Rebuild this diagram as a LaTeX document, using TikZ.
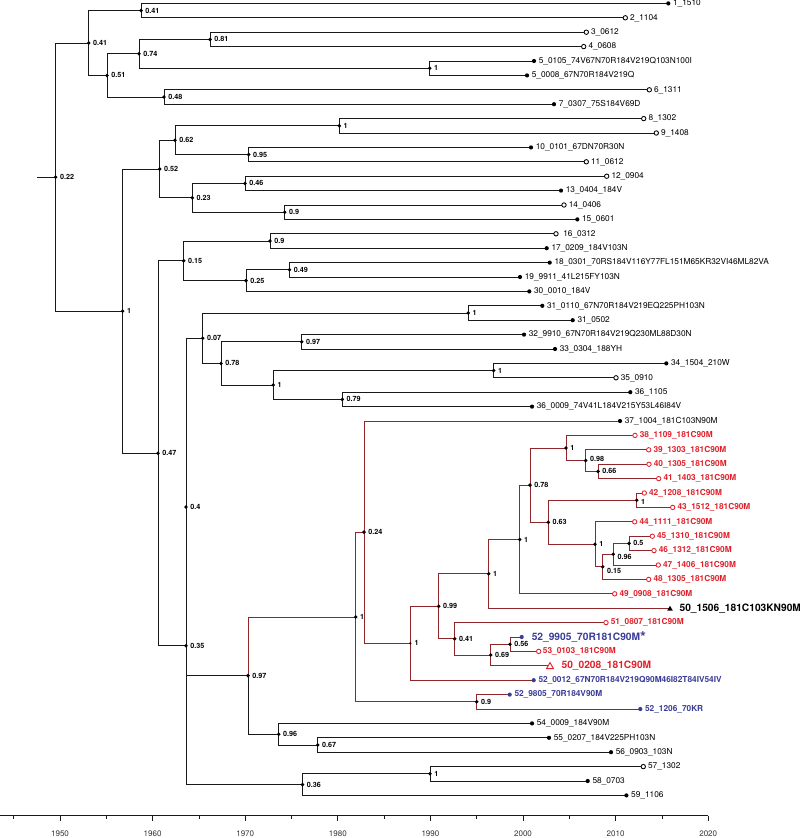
\documentclass[tikz,border=0pt]{standalone}
\usepackage{fontspec}
\setmainfont{TeX Gyre Heros}
\usetikzlibrary{shapes.geometric}
\definecolor{brred}{RGB}{145,38,42}
\definecolor{txtred}{RGB}{224,34,44}
\definecolor{txtblue}{RGB}{58,60,150}
\definecolor{brblack}{RGB}{25,25,25}
\newcommand\kids[3]{\draw (#1) |- (#2) (#1) |- (#3);}
\tikzset{
  br/.style={line width=0.9pt, draw=brblack},
  rbr/.style={line width=0.9pt, draw=brred},
  idot/.style={circle, fill=black, inner sep=0pt, minimum size=3.8pt},
  sdot/.style={circle, fill=black, inner sep=0pt, minimum size=2.4pt},
  fdot/.style={circle, fill=black, inner sep=0pt, minimum size=4.2pt},
  odot/.style={circle, draw=black, fill=white, line width=0.85pt, inner sep=0pt, minimum size=4.4pt},
  rodot/.style={odot, draw=txtred},
  bdot/.style={fdot, fill=txtblue},
  ftri/.style={regular polygon, regular polygon sides=3, fill=black, inner sep=0pt, minimum size=6.5pt},
  rotri/.style={regular polygon, regular polygon sides=3, draw=txtred, fill=white, line width=0.9pt, inner sep=0pt, minimum size=8pt},
  tlab/.style={anchor=west, inner sep=0pt, xshift=4.6pt, font=\fontsize{8.3}{9}\selectfont},
  rlab/.style={tlab, text=txtred, font=\fontsize{8.3}{9}\selectfont\bfseries},
  blab/.style={tlab, text=txtblue, font=\fontsize{8.3}{9}\selectfont\bfseries},
  biglab/.style={tlab, xshift=4.8pt, font=\fontsize{10.2}{12}\selectfont\bfseries},
  slab/.style={anchor=west, inner sep=0pt, xshift=4.2pt, font=\fontsize{7.2}{8}\selectfont\bfseries},
  axlab/.style={inner sep=0pt, font=\fontsize{8}{9}\selectfont, text=black!80},
}
\begin{document}
\begin{tikzpicture}[x=1pt, y=-1pt]
\useasboundingbox (0,0) rectangle (800,838);
% ---------------- tips ----------------
\coordinate (t0) at (668.3,3.4);
\coordinate (t1) at (625.3,17.8);
\coordinate (t2) at (586.3,32.2);
\coordinate (t3) at (583.7,46.6);
\coordinate (t4) at (534,61.0);
\coordinate (t5) at (527,75.4);
\coordinate (t6) at (649.3,89.8);
\coordinate (t7) at (554,104.2);
\coordinate (t8) at (643.7,118.6);
\coordinate (t9) at (656.3,133.0);
\coordinate (t10) at (531,147.4);
\coordinate (t11) at (586.3,161.8);
\coordinate (t12) at (606.7,176.2);
\coordinate (t13) at (561,190.6);
\coordinate (t14) at (564,205.0);
\coordinate (t15) at (577.3,219.4);
\coordinate (t16) at (556,233.8);
\coordinate (t17) at (546.7,248.2);
\coordinate (t18) at (549.7,262.6);
\coordinate (t19) at (520,277.0);
\coordinate (t20) at (529.3,291.4);
\coordinate (t21) at (542.3,305.8);
\coordinate (t22) at (572.7,320.2);
\coordinate (t23) at (524,334.6);
\coordinate (t24) at (555,349.0);
\coordinate (t25) at (666.3,363.4);
\coordinate (t26) at (616,377.8);
\coordinate (t27) at (630.3,392.2);
\coordinate (t28) at (532,406.6);
\coordinate (t29) at (620,421.0);
\coordinate (t30) at (635,435.4);
\coordinate (t31) at (648.7,449.8);
\coordinate (t32) at (649,464.2);
\coordinate (t33) at (658.7,478.6);
\coordinate (t34) at (644.3,493.0);
\coordinate (t35) at (672.7,507.4);
\coordinate (t36) at (634.7,521.8);
\coordinate (t37) at (652.3,536.2);
\coordinate (t38) at (654,550.6);
\coordinate (t39) at (658.3,565.0);
\coordinate (t40) at (648.7,579.4);
\coordinate (t41) at (614.7,593.8);
\coordinate (t42) at (670,608.2);
\coordinate (t43) at (606,622.6);
\coordinate (t44) at (521.7,637.0);
\coordinate (t45) at (538.7,651.4);
\coordinate (t46) at (550,665.8);
\coordinate (t47) at (533.7,680.2);
\coordinate (t48) at (509.7,694.6);
\coordinate (t49) at (640.3,709.0);
\coordinate (t50) at (532,723.4);
\coordinate (t51) at (549,737.8);
\coordinate (t52) at (611,752.2);
\coordinate (t53) at (643.3,766.6);
\coordinate (t54) at (587.7,781.0);
\coordinate (t55) at (626.4,795.4);
% ---------------- internal nodes ----------------
\coordinate (A) at (141,10.6);
\coordinate (B) at (210,39.4);
\coordinate (C) at (429.7,68.2);
\coordinate (D) at (139,53.8);
\coordinate (E) at (164,97.0);
\coordinate (F) at (107,75.4);
\coordinate (G) at (88.7,43.0);
\coordinate (H) at (339.3,125.8);
\coordinate (I) at (248.7,154.6);
\coordinate (J) at (175,140.2);
\coordinate (K) at (245,183.4);
\coordinate (L) at (284.7,212.2);
\coordinate (M) at (192.3,197.8);
\coordinate (N) at (159.7,169.0);
\coordinate (O) at (270,241.0);
\coordinate (P) at (289.5,269.8);
\coordinate (Q) at (246,280.6);
\coordinate (R) at (183.7,260.8);
\coordinate (S) at (468.3,313.0);
\coordinate (T) at (301.7,341.8);
\coordinate (U) at (493.7,370.6);
\coordinate (V) at (342.3,399.4);
\coordinate (W) at (273.3,385.0);
\coordinate (X) at (221,363.4);
\coordinate (Y) at (202.7,338.2);
\coordinate (a1) at (598,471.4);
\coordinate (a2) at (585.7,460.6);
\coordinate (a3) at (566,448.0);
\coordinate (a4) at (636.7,500.2);
\coordinate (a5) at (629,543.4);
\coordinate (a6) at (613.3,554.2);
\coordinate (a7) at (602.7,566.8);
\coordinate (a8) at (595,544.3);
\coordinate (a9) at (548.3,522.3);
\coordinate (a10) at (530,485.1);
\coordinate (a11) at (519.7,539.5);
\coordinate (a12) at (488.7,573.8);
\coordinate (b1) at (510,644.2);
\coordinate (b2) at (490.7,655.0);
\coordinate (b3) at (454.7,638.8);
\coordinate (b4) at (438.7,606.3);
\coordinate (b5) at (410.3,643.3);
\coordinate (b6) at (364,532.1);
\coordinate (b7) at (476.7,701.8);
\coordinate (b8) at (355.7,617.0);
\coordinate (c1) at (317.7,745.0);
\coordinate (c2) at (278.7,734.2);
\coordinate (c3) at (248,675.6);
\coordinate (c4) at (186,506.9);
\coordinate (c5) at (430,773.8);
\coordinate (c6) at (302.5,784.6);
\coordinate (c7) at (186,645.8);
\coordinate (c8) at (158,453.3);
\coordinate (c9) at (122.7,311.1);
\coordinate (c10) at (55.7,177.1);
\coordinate (root) at (37,177.1);
% ---------------- branches ----------------
\begin{scope}[br]
\kids{A}{t0}{t1} \kids{B}{t2}{t3} \kids{C}{t4}{t5} \kids{D}{B}{C}
\kids{E}{t6}{t7} \kids{F}{D}{E} \kids{G}{A}{F}
\kids{H}{t8}{t9} \kids{I}{t10}{t11} \kids{J}{H}{I}
\kids{K}{t12}{t13} \kids{L}{t14}{t15} \kids{M}{K}{L} \kids{N}{J}{M}
\kids{O}{t16}{t17} \kids{P}{t18}{t19} \kids{Q}{P}{t20} \kids{R}{O}{Q}
\kids{S}{t21}{t22} \kids{T}{t23}{t24} \kids{U}{t25}{t26} \kids{V}{t27}{t28}
\kids{W}{U}{V} \kids{X}{T}{W} \kids{Y}{S}{X}
\kids{c1}{t51}{t52} \kids{c2}{t50}{c1}
\draw (c3) |- (c2);
\kids{c4}{Y}{c3}
\kids{c5}{t53}{t54} \kids{c6}{c5}{t55} \kids{c7}{c4}{c6}
\kids{c8}{R}{c7} \kids{c9}{N}{c8} \kids{c10}{G}{c9}
\draw (root) -- (c10);
\end{scope}
\begin{scope}[rbr]
\kids{a1}{t32}{t33} \kids{a2}{t31}{a1} \kids{a3}{t30}{a2}
\kids{a4}{t34}{t35} \kids{a5}{t37}{t38} \kids{a6}{a5}{t39} \kids{a7}{a6}{t40}
\kids{a8}{t36}{a7} \kids{a9}{a4}{a8} \kids{a10}{a3}{a9} \kids{a11}{a10}{t41}
\kids{a12}{a11}{t42}
\kids{b1}{t44}{t45} \kids{b2}{b1}{t46} \kids{b3}{t43}{b2} \kids{b4}{a12}{b3}
\kids{b5}{b4}{t47} \kids{b6}{t29}{b5} \kids{b7}{t48}{t49} \kids{b8}{b6}{b7}
\draw (c3) |- (b8);
\end{scope}
% ---------------- internal dots and support values ----------------
\foreach \n/\v in {A/0.41,B/0.81,C/1,D/0.74,E/0.48,F/0.51,G/0.41,H/1,I/0.95,J/0.62,K/0.46,L/0.9,M/0.23,N/0.52,O/0.9,P/0.49,Q/0.25,R/0.15,S/1,T/0.97,U/1,V/0.79,W/1,X/0.78,Y/0.07,a1/0.66,a3/1,a5/0.5,a8/1,a9/0.63,a10/0.78,a11/1,a12/1,b1/0.56,b2/0.69,b3/0.41,b4/0.99,b6/0.24,b7/0.9,b8/1,c1/0.67,c2/0.96,c3/0.97,c4/0.4,c5/1,c6/0.36,c7/0.35,c8/0.47,c9/1,c10/0.22}{
  \node[idot] (d\n) at (\n) {};
  \node[slab] (s\n) at (\n) {\v};
}
\node[idot] (da2) at (a2) {};
\node[slab, yshift=1.5pt] (sa2) at (a2) {0.98};
\node[idot] (da4) at (a4) {};
\node[slab, yshift=-2pt] (sa4) at (a4) {1};
\node[idot] (da6) at (a6) {};
\node[slab, yshift=-2.5pt] (sa6) at (a6) {0.96};
\node[idot] (da7) at (a7) {};
\node[slab, yshift=-4.5pt] (sa7) at (a7) {0.15};
\node[sdot] (db5) at (b5) {};
\node[slab] (sb5) at (b5) {1};
% ---------------- tip markers ----------------
\foreach \t in {0,4,5,7,10,13,15,17,18,19,20,21,22,23,24,25,27,28,29,50,51,52,54,55}{
  \node[fdot] (m\t) at (t\t) {};
}
\foreach \t in {1,2,3,6,8,9,11,12,14,16,26,53}{
  \node[odot] (m\t) at (t\t) {};
}
\foreach \t in {30,31,32,33,34,35,36,37,38,39,40,41,43,45}{
  \node[rodot] (m\t) at (t\t) {};
}
\foreach \t in {44,47,48,49}{
  \node[bdot] (m\t) at (t\t) {};
}
\node[ftri] (m42) at ([yshift=-0.8pt]t42) {};
\node[rotri] (m46) at ([yshift=-0.8pt]t46) {};
% ---------------- tip labels ----------------
\node[tlab] (l0) at (t0) {1\_1510};
\node[tlab] (l1) at (t1) {2\_1104};
\node[tlab] (l2) at (t2) {3\_0612};
\node[tlab] (l3) at (t3) {4\_0608};
\node[tlab] (l4) at (t4) {5\_0105\_74V67N70R184V219Q103N100I};
\node[tlab] (l5) at (t5) {5\_0008\_67N70R184V219Q};
\node[tlab] (l6) at (t6) {6\_1311};
\node[tlab] (l7) at (t7) {7\_0307\_75S184V69D};
\node[tlab] (l8) at (t8) {8\_1302};
\node[tlab] (l9) at (t9) {9\_1408};
\node[tlab] (l10) at (t10) {10\_0101\_67DN70R30N};
\node[tlab] (l11) at (t11) {11\_0612};
\node[tlab] (l12) at (t12) {12\_0904};
\node[tlab] (l13) at (t13) {13\_0404\_184V};
\node[tlab] (l14) at (t14) {14\_0406};
\node[tlab] (l15) at (t15) {15\_0601};
\node[tlab, xshift=2.5pt] (l16) at (t16) {16\_0312};
\node[tlab] (l17) at (t17) {17\_0209\_184V103N};
\node[tlab] (l18) at (t18) {18\_0301\_70RS184V116Y77FL151M65KR32VI46ML82VA};
\node[tlab] (l19) at (t19) {19\_9911\_41L215FY103N};
\node[tlab] (l20) at (t20) {30\_0010\_184V};
\node[tlab] (l21) at (t21) {31\_0110\_67N70R184V219EQ225PH103N};
\node[tlab] (l22) at (t22) {31\_0502};
\node[tlab] (l23) at (t23) {32\_9910\_67N70R184V219Q230ML88D30N};
\node[tlab] (l24) at (t24) {33\_0304\_188YH};
\node[tlab] (l25) at (t25) {34\_1504\_210W};
\node[tlab] (l26) at (t26) {35\_0910};
\node[tlab] (l27) at (t27) {36\_1105};
\node[tlab] (l28) at (t28) {36\_0009\_74V41L184V215Y53L46I84V};
\node[tlab] (l29) at (t29) {37\_1004\_181C103N90M};
\node[rlab] (l30) at (t30) {38\_1109\_181C90M};
\node[rlab] (l31) at (t31) {39\_1303\_181C90M};
\node[rlab] (l32) at (t32) {40\_1305\_181C90M};
\node[rlab] (l33) at (t33) {41\_1403\_181C90M};
\node[rlab] (l34) at (t34) {42\_1208\_181C90M};
\node[rlab] (l35) at (t35) {43\_1512\_181C90M};
\node[rlab] (l36) at (t36) {44\_1111\_181C90M};
\node[rlab] (l37) at (t37) {45\_1310\_181C90M};
\node[rlab] (l38) at (t38) {46\_1312\_181C90M};
\node[rlab] (l39) at (t39) {47\_1406\_181C90M};
\node[rlab] (l40) at (t40) {48\_1305\_181C90M};
\node[rlab] (l41) at (t41) {49\_0908\_181C90M};
\node[biglab] (l42) at (t42) {50\_1506\_181C103KN90M};
\node[rlab] (l43) at (t43) {51\_0807\_181C90M};
\node[biglab, text=txtblue, xshift=0.5pt] (l44) at (t44) {52\_9905\_70R181C90M\raisebox{-1.2pt}{\fontsize{15}{15}\selectfont *}};
\node[rlab, xshift=-0.6pt] (l45) at (t45) {53\_0103\_181C90M};
\node[biglab, text=txtred, xshift=2pt] (l46) at (t46) {50\_0208\_181C90M};
\node[blab] (l47) at (t47) {52\_0012\_67N70R184V219Q90M46I82T84IV54IV};
\node[blab] (l48) at (t48) {52\_9805\_70R184V90M};
\node[blab] (l49) at (t49) {52\_1206\_70KR};
\node[tlab] (l50) at (t50) {54\_0009\_184V90M};
\node[tlab] (l51) at (t51) {55\_0207\_184V225PH103N};
\node[tlab] (l52) at (t52) {56\_0903\_103N};
\node[tlab] (l53) at (t53) {57\_1302};
\node[tlab] (l54) at (t54) {58\_0703};
\node[tlab] (l55) at (t55) {59\_1106};
% ---------------- time axis ----------------
\coordinate (ax0) at (0,815.7);
\coordinate (ax1) at (708.3,815.7);
\draw[line width=0.9pt, brblack] (ax0) -- (ax1);
\foreach \yr [count=\k] in {1950,1960,...,2020}{
  \pgfmathsetmacro{\xx}{60+9.26*(\yr-1950)}
  \coordinate (tk\k) at (\xx,815.7);
  \draw[line width=0.8pt, brblack] (tk\k) -- ++(0,5);
  \node[axlab] (yl\k) at (\xx,834) {\yr};
}
\foreach \yr [count=\k] in {1945,1955,...,2015}{
  \pgfmathsetmacro{\xx}{60+9.26*(\yr-1950)}
  \coordinate (mk\k) at (\xx,815.7);
  \draw[line width=0.7pt, brblack] (mk\k) -- ++(0,3);
}
\end{tikzpicture}
\end{document}
